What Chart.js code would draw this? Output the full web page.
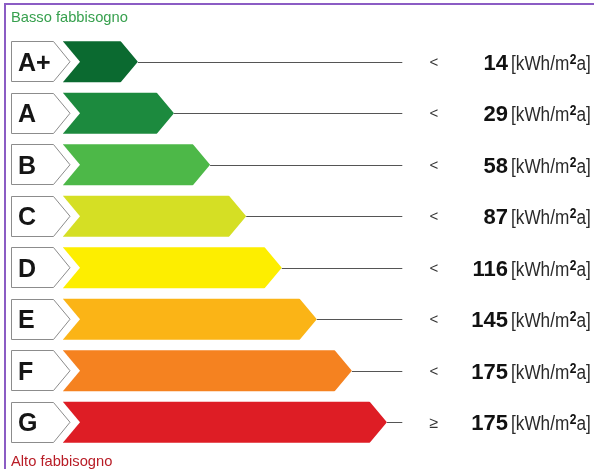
<!DOCTYPE html>
<html><head><meta charset="utf-8">
<script src="https://cdn.jsdelivr.net/npm/chart.js@4.4.1/dist/chart.umd.min.js"></script>
<style>html,body{margin:0;padding:0;background:#fff}#wrap{width:594px;height:469px;position:relative}</style>
</head><body><div id="wrap"><canvas id="c" width="594" height="469"></canvas></div>
<script>
// ---- data ----
const classes = ['A+', 'A', 'B', 'C', 'D', 'E', 'F', 'G'];
const barLength = [14.1, 20.9, 27.7, 34.5, 41.2, 47.8, 54.4, 61.0];   // relative arrow length (axis 0..100)
const thresholds = [14, 29, 58, 87, 116, 145, 175, 175];
const comparators = ['<', '<', '<', '<', '<', '<', '<', '\u2265'];
const classColors = ['#0b6a30', '#1c8a3e', '#4db848', '#d5df24', '#fdee00', '#fbb416', '#f58220', '#de1d25'];
const unitMain = '[kWh/m', unitSup = '2', unitEnd = 'a]';
const topNote = 'Basso fabbisogno';
const bottomNote = 'Alto fabbisogno';
const connectorEnd = 63.9; // axis value where the thin guide lines end

const FONT = '"Liberation Sans", Arial, Helvetica, sans-serif';

const energyPlugin = {
  id: 'energyLabel',
  beforeDraw(chart) {
    const ctx = chart.ctx;
    ctx.save();
    ctx.fillStyle = '#ffffff';
    ctx.fillRect(0, 0, chart.width, chart.height);
    ctx.fillStyle = '#8b5cc4';
    ctx.fillRect(4, 3, 2, chart.height - 3);
    ctx.fillRect(4, 3, chart.width - 4, 2);
    ctx.restore();
  },
  afterDatasetsDraw(chart) {
    const ctx = chart.ctx;
    const meta = chart.getDatasetMeta(0);
    const xs = chart.scales.x;
    const lineX = xs.getPixelForValue(connectorEnd);
    const tipLen = 18, notch = 17;
    ctx.save();
    meta.data.forEach((el, i) => {
      const x = el.x, base = el.base, y = el.y, h = el.height;
      const top = y - h / 2, bot = y + h / 2;
      // carve arrow tip
      ctx.fillStyle = '#ffffff';
      ctx.beginPath();
      ctx.moveTo(x - tipLen, top - 1);
      ctx.lineTo(x + 2, top - 1);
      ctx.lineTo(x + 2, bot + 1);
      ctx.lineTo(x - tipLen, bot + 1);
      ctx.lineTo(x, y);
      ctx.closePath();
      ctx.fill();
      // carve left notch
      ctx.beginPath();
      ctx.moveTo(base - 1, top - 1);
      ctx.lineTo(base + notch, y);
      ctx.lineTo(base - 1, bot + 1);
      ctx.closePath();
      ctx.fill();
      // guide line
      ctx.strokeStyle = '#555555';
      ctx.lineWidth = 1;
      ctx.beginPath();
      ctx.moveTo(x, Math.round(y) + 0.5);
      ctx.lineTo(lineX, Math.round(y) + 0.5);
      ctx.stroke();
      // label box
      const bl = base - 52 + 0.5, br = base - 10 + 0.5, bt = base + 7;
      ctx.beginPath();
      ctx.moveTo(bl, Math.round(top) + 0.5);
      ctx.lineTo(br, Math.round(top) + 0.5);
      ctx.lineTo(bt, y);
      ctx.lineTo(br, Math.round(bot) - 0.5);
      ctx.lineTo(bl, Math.round(bot) - 0.5);
      ctx.closePath();
      ctx.fillStyle = '#ffffff';
      ctx.fill();
      ctx.strokeStyle = '#8c8c8c';
      ctx.stroke();
      // class letter
      ctx.fillStyle = '#151515';
      ctx.font = 'bold 25px ' + FONT;
      ctx.textAlign = 'left';
      ctx.textBaseline = 'alphabetic';
      ctx.fillText(chart.data.labels[i], base - 45, y + 9);
      // comparator
      ctx.fillStyle = '#333333';
      ctx.font = (i === classes.length - 1 ? '16px ' : '15px ') + FONT;
      ctx.textAlign = 'center';
      ctx.textBaseline = 'middle';
      ctx.fillText(comparators[i], 434, y + 1);
      // value
      ctx.fillStyle = '#111111';
      ctx.font = 'bold 22px ' + FONT;
      ctx.textAlign = 'right';
      ctx.textBaseline = 'alphabetic';
      ctx.fillText(String(thresholds[i]), 508, y + 8);
      // unit
      ctx.save();
      ctx.translate(511, y + 8);
      ctx.scale(0.86, 1);
      ctx.textAlign = 'left';
      ctx.fillStyle = '#2a2a2a';
      ctx.font = '20px ' + FONT;
      ctx.fillText(unitMain, 0, 0);
      let w = ctx.measureText(unitMain).width;
      ctx.font = 'bold 14px ' + FONT;
      ctx.fillStyle = '#111111';
      ctx.fillText(unitSup, w + 0.5, -6);
      w += ctx.measureText(unitSup).width + 0.5;
      ctx.font = '20px ' + FONT;
      ctx.fillStyle = '#2a2a2a';
      ctx.fillText(unitEnd, w, 0);
      ctx.restore();
    });
    // notes
    ctx.textAlign = 'left';
    ctx.textBaseline = 'alphabetic';
    ctx.font = '15px ' + FONT;
    ctx.fillStyle = '#37a04e';
    ctx.save(); ctx.translate(11, 22); ctx.scale(0.98, 1); ctx.fillText(topNote, 0, 0); ctx.restore();
    ctx.fillStyle = '#b81c26';
    ctx.save(); ctx.translate(11, 466); ctx.scale(0.98, 1); ctx.fillText(bottomNote, 0, 0); ctx.restore();
    ctx.restore();
  }
};

new Chart(document.getElementById('c'), {
  type: 'bar',
  data: {
    labels: classes,
    datasets: [{
      data: barLength,
      backgroundColor: classColors,
      borderWidth: 0,
      categoryPercentage: 1,
      barPercentage: 0.8
    }]
  },
  options: {
    indexAxis: 'y',
    responsive: false,
    animation: false,
    events: [],
    layout: { padding: { left: 63, right: 0, top: 36, bottom: 21 } },
    scales: {
      x: { display: false, min: 0, max: 100 },
      y: { display: false }
    },
    plugins: { legend: { display: false }, tooltip: { enabled: false }, title: { display: false } }
  },
  plugins: [energyPlugin]
});
</script>
</body></html>
